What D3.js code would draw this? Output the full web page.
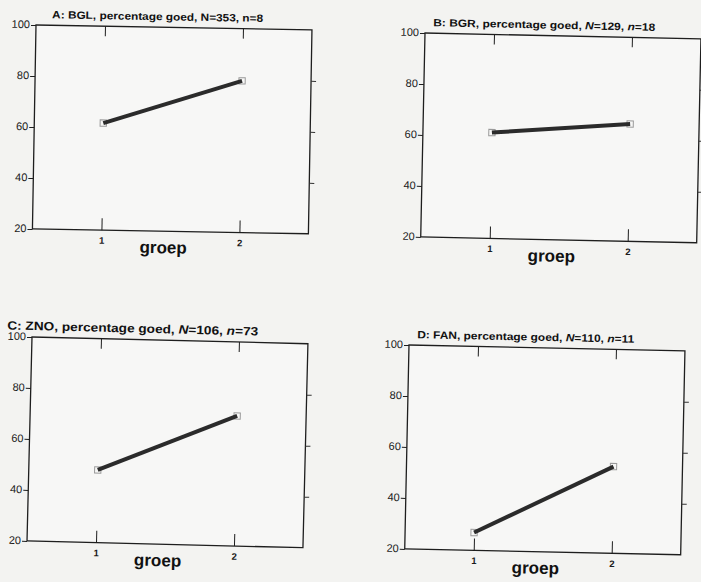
<!DOCTYPE html>
<html>
<head>
<meta charset="utf-8">
<script src="https://cdn.jsdelivr.net/npm/d3@7"></script>
<style>
  body { margin: 0; background: #f3f3f1; }
  svg { display: block; }
  .tick text { font-family: "Liberation Sans", Arial, sans-serif; fill: #1a1a1a; }
</style>
</head>
<body>
<div id="viz"></div>
<script>
// chart data
const panelIds = ["A", "B", "C", "D"];
const tests = ["BGL", "BGR", "ZNO", "FAN"];
const bigN = [353, 129, 106, 110];
const smallN = [8, 18, 73, 11];
const groups = [1, 2];
const scores = [
    [62, 79.5],   // A: BGL
    [61.5, 66],   // B: BGR
    [48.5, 71],   // C: ZNO
    [27, 54]      // D: FAN
];
const yTicks = [20, 40, 60, 80, 100];
const rightTicks = [40, 60, 80];

// layout of the four panels (scan is slightly skewed, hence the small rotation)
const origins = [[36, 25], [425, 33], [32, 337], [409, 345]];
const turns = [1.0, 1.2, 1.4, 1.2];
const titleStart = [16, 8, -25, 8];
const titleWidth = [211, 222, 251, 217];
const titleSize = [10.5, 10.5, 12, 10.5];
const italicN = [false, true, true, true];
const W = 276, H = 204;

const svg = d3.select("#viz")
              .append("svg")
              .attr("width", 701)
              .attr("height", 582);

panelIds.forEach((id, i) => drawPanel(i));

function drawPanel(i) {
    const g = svg.append("g")
                 .attr("transform", `translate(${origins[i][0]},${origins[i][1]}) rotate(${turns[i]})`);

    const x = d3.scaleLinear().domain([0.5, 2.5]).range([0, W]);
    const y = d3.scaleLinear().domain([20, 100]).range([H, 0]);

    // frame
    g.append("rect")
     .attr("width", W)
     .attr("height", H)
     .attr("fill", "#f7f7f6")
     .attr("stroke", "#1e1e1e")
     .attr("stroke-width", 1.3);

    // left axis with labels
    const left = g.append("g")
                  .call(d3.axisLeft(y).tickValues(yTicks).tickSize(5).tickPadding(1));
    left.select(".domain").remove();
    left.selectAll(".tick line").attr("stroke", "#1e1e1e");
    left.selectAll(".tick text").attr("font-size", 11).attr("dy", "0.25em");

    // right axis, ticks only
    const right = g.append("g")
                   .attr("transform", `translate(${W},0)`)
                   .call(d3.axisRight(y).tickValues(rightTicks).tickSize(5).tickFormat(""));
    right.select(".domain").remove();
    right.selectAll(".tick line").attr("stroke", "#333");

    // top ticks pointing in
    const top = g.append("g")
                 .call(d3.axisBottom(x).tickValues(groups).tickSize(10).tickFormat(""));
    top.select(".domain").remove();
    top.selectAll(".tick line").attr("stroke", "#1e1e1e");

    // bottom ticks pointing in, labels below
    const bottom = g.append("g")
                    .attr("transform", `translate(0,${H})`)
                    .call(d3.axisBottom(x).tickValues(groups)
                            .tickSizeInner(-12).tickSizeOuter(0).tickPadding(7)
                            .tickFormat(d3.format("d")));
    bottom.select(".domain").remove();
    bottom.selectAll(".tick line").attr("stroke", "#1e1e1e");
    bottom.selectAll(".tick text").attr("font-size", 9.5).attr("font-weight", "bold");

    // axis title
    g.append("text")
     .attr("x", W / 2 - 7)
     .attr("y", H + 22)
     .attr("text-anchor", "middle")
     .attr("font-family", "Liberation Sans, Arial, sans-serif")
     .attr("font-weight", "bold")
     .attr("font-size", 17)
     .attr("fill", "#111")
     .text("groep");

    // panel title
    const t = g.append("text")
               .attr("x", titleStart[i])
               .attr("y", -7)
               .attr("font-family", "Liberation Sans, Arial, sans-serif")
               .attr("font-weight", "bold")
               .attr("font-size", titleSize[i])
               .attr("fill", "#111")
               .attr("textLength", titleWidth[i])
               .attr("lengthAdjust", "spacingAndGlyphs");
    const style = italicN[i] ? "italic" : "normal";
    t.append("tspan").text(`${panelIds[i]}: ${tests[i]}, percentage goed, `);
    t.append("tspan").attr("font-style", style).text("N");
    t.append("tspan").text(`=${bigN[i]}, `);
    t.append("tspan").attr("font-style", style).text("n");
    t.append("tspan").text(`=${smallN[i]}`);

    const pts = groups.map((gr, k) => [gr, scores[i][k]]);

    // open square markers
    g.selectAll(".marker")
     .data(pts)
     .enter()
     .append("path")
     .attr("class", "marker")
     .attr("transform", d => `translate(${x(d[0])},${y(d[1])})`)
     .attr("d", d3.symbol(d3.symbolSquare, 40))
     .attr("fill", "none")
     .attr("stroke", "#9a9a9a")
     .attr("stroke-width", 1);

    // mean line
    g.append("path")
     .datum(pts)
     .attr("d", d3.line().x(d => x(d[0])).y(d => y(d[1])))
     .attr("fill", "none")
     .attr("stroke", "#2b2b2b")
     .attr("stroke-width", 4);
}
</script>
</body>
</html>
